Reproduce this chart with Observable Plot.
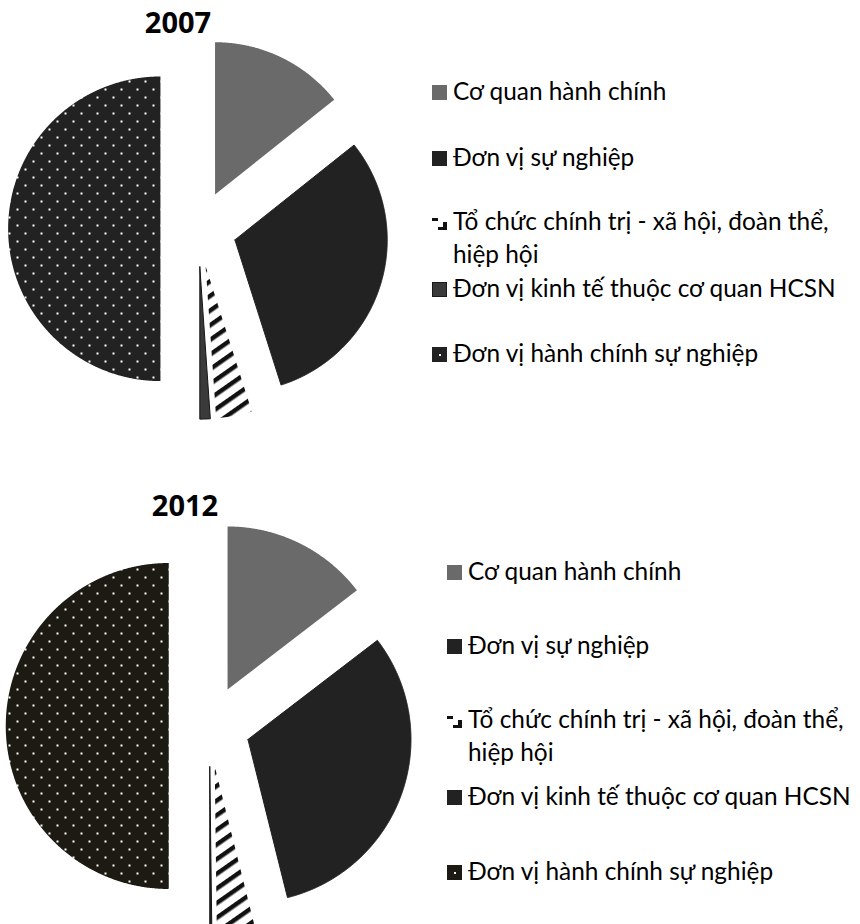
<!DOCTYPE html>
<html lang="vi">
<head>
<meta charset="utf-8">
<script src="https://cdn.jsdelivr.net/npm/d3@7"></script>
<script src="https://cdn.jsdelivr.net/npm/@observablehq/plot@0.6"></script>
<style>
html,body{margin:0;padding:0;background:#fff;}
#root{position:relative;width:860px;height:924px;overflow:hidden;background:#fff;font-family:"Open Sans",sans-serif;color:#000;}
.pie{position:absolute;left:0;}
.title{position:absolute;width:200px;text-align:center;font-weight:700;white-space:nowrap;}
.lab{position:absolute;white-space:normal;font-family:Lato,"Open Sans",sans-serif;}
.sw{position:absolute;}
</style>
</head>
<body>
<svg width="0" height="0" style="position:absolute;left:0;top:0">
  <defs>
    <pattern id="dots07" patternUnits="userSpaceOnUse" width="16" height="16">
      <rect width="16" height="16" fill="#222222"/>
      <rect x="0" y="0" width="2" height="2" fill="#fff"/>
      <rect x="8" y="8" width="2" height="2" fill="#fff"/>
    </pattern>
    <pattern id="dots12" patternUnits="userSpaceOnUse" width="16" height="16">
      <rect width="16" height="16" fill="#1c1a12"/>
      <rect x="0" y="0" width="2" height="2" fill="#fff"/>
      <rect x="8" y="8" width="2" height="2" fill="#fff"/>
    </pattern>
    <pattern id="hatch" patternUnits="userSpaceOnUse" width="12" height="12" patternTransform="rotate(-35)">
      <rect width="12" height="12" fill="#fff"/>
      <rect x="0" y="0" width="12" height="4.5" fill="#111"/>
    </pattern>
  </defs>
</svg>
<div id="root"></div>
<script>
// ---------- data ----------
const categories = [
  "Cơ quan hành chính",
  "Đơn vị sự nghiệp",
  "Tổ chức chính trị - xã hội, đoàn thể, hiệp hội",
  "Đơn vị kinh tế thuộc cơ quan HCSN",
  "Đơn vị hành chính sự nghiệp"
];
const years = ["2007", "2012"];
const shares2007 = [14.3, 30.8, 3.8, 1.1, 50.0];
const shares2012 = [14.6, 31.5, 3.7, 0.2, 50.0];
const sharesByYear = {"2007": shares2007, "2012": shares2012};

// ---------- styles ----------
const fillsByYear = {
  "2007": ["#6a6a6a", "#222222", "url(#hatch)", "#3a3a3a", "url(#dots07)"],
  "2012": ["#6a6a6a", "#222222", "url(#hatch)", "#222222", "url(#dots12)"]
};
const strokesByYear = {
  "2007": ["none", "#222222", "none", "#151515", "none"],
  "2012": ["none", "#222222", "none", "#151515", "none"]
};
const EXPLODE = 0.25;

// ---------- layout ----------
const layout = {
  "2007": {top: 0,   W: 430, H: 440, cx: 198, cy: 228.3, r: 152.3, titleX: 178, titleBase: 33,
           swX: 432, txX: 453, base: [100, 166, 230, 297, 362]},
  "2012": {top: 480, W: 430, H: 444, cx: 209, cy: 245.5, r: 163,   titleX: 185, titleBase: 516,
           swX: 447, txX: 468, base: [580, 654, 728, 805, 880]}
};

const root = document.getElementById("root");
const LEG_FONT = 'Lato';

// fit legend font so the widest legend line matches the reference width
const ctx = document.createElement("canvas").getContext("2d");
ctx.font = '100px ' + LEG_FONT;
const longW = Math.max(
  ctx.measureText("Tổ chức chính trị - xã hội, đoàn thể,").width,
  ctx.measureText(categories[3]).width
);
const LEG_FS = 100 * 384 / longW;
const LEG_LH = 33;

// measure baseline offset inside a line box
function baselineOffset(family, weight, fs, lh) {
  const d = document.createElement("div");
  d.style.cssText = `position:absolute;left:0;top:0;visibility:hidden;font-family:${family};font-weight:${weight};font-size:${fs}px;line-height:${lh}px;white-space:nowrap;`;
  d.textContent = "Hg";
  const m = document.createElement("span");
  m.style.cssText = "display:inline-block;width:0;height:0;vertical-align:baseline;";
  d.appendChild(m);
  root.appendChild(d);
  const off = m.getBoundingClientRect().top - d.getBoundingClientRect().top;
  root.removeChild(d);
  return off;
}

function sliceOutline(values) {
  const arcs = d3.pie().sort(null).value(v => v)(values);
  const pts = [];
  arcs.forEach((a, i) => {
    const mid = (a.startAngle + a.endAngle) / 2;
    const ox = EXPLODE * Math.sin(mid), oy = EXPLODE * Math.cos(mid);
    const steps = Math.max(4, Math.ceil((a.endAngle - a.startAngle) / 0.005));
    pts.push({slice: i, x: ox, y: oy});
    for (let j = 0; j <= steps; j++) {
      const t = a.startAngle + (a.endAngle - a.startAngle) * j / steps;
      pts.push({slice: i, x: ox + Math.sin(t), y: oy + Math.cos(t)});
    }
    pts.push({slice: i, x: ox, y: oy});
  });
  return pts;
}

function swatch(i, year) {
  const ns = "http://www.w3.org/2000/svg";
  const s = document.createElementNS(ns, "svg");
  s.setAttribute("width", 15); s.setAttribute("height", 15);
  s.setAttribute("class", "sw");
  let inner = "";
  const f = fillsByYear[year];
  if (i === 0 || i === 1) inner = `<rect width="15" height="15" fill="${f[i]}"/>`;
  else if (i === 2) inner = `<rect width="15" height="15" fill="#fff"/><path d="M0,3h6v3h-6z M15,7L15,15L6,15L6,12L11,12L11,7Z" fill="#111"/>`;
  else if (i === 3) inner = year === "2007"
      ? `<rect x="0.5" y="0.5" width="14" height="14" fill="#3a3a3a" stroke="#1a1a1a"/>`
      : `<rect width="15" height="15" fill="#222222"/>`;
  else inner = `<rect width="15" height="15" fill="${year === "2007" ? "#222222" : "#1c1a12"}"/><rect x="7" y="7" width="2" height="2" fill="#fff"/>`;
  s.innerHTML = inner;
  return s;
}

const TFS = 29;
const titleOff = baselineOffset('"Open Sans"', 700, TFS, TFS);
const legOff = baselineOffset(LEG_FONT, 400, LEG_FS, LEG_LH);

years.forEach(year => {
  const L = layout[year];
  const fills = fillsByYear[year], strokes = strokesByYear[year];
  const pts = sliceOutline(sharesByYear[year]);
  const chart = Plot.plot({
    width: L.W, height: L.H, margin: 0,
    x: {domain: [-L.cx / L.r, (L.W - L.cx) / L.r], range: [0, L.W], axis: null},
    y: {domain: [(L.cy - L.H) / L.r, L.cy / L.r], range: [L.H, 0], axis: null},
    color: {type: "identity"},
    marks: [
      Plot.line(pts, {x: "x", y: "y", z: "slice",
        fill: d => fills[d.slice], stroke: d => strokes[d.slice],
        strokeWidth: 1, curve: "linear"})
    ]
  });
  chart.classList.add("pie");
  chart.style.top = L.top + "px";
  chart.style.background = "transparent";
  root.appendChild(chart);

  const t = document.createElement("div");
  t.className = "title";
  t.style.fontSize = TFS + "px";
  t.style.lineHeight = TFS + "px";
  t.style.left = (L.titleX - 100) + "px";
  t.style.top = (L.titleBase - titleOff) + "px";
  t.textContent = year;
  root.appendChild(t);

  categories.forEach((c, i) => {
    const b = L.base[i];
    const sw = swatch(i, year);
    sw.style.left = L.swX + "px";
    sw.style.top = (b - 15) + "px";
    root.appendChild(sw);
    const lab = document.createElement("div");
    lab.className = "lab";
    lab.style.fontSize = LEG_FS + "px";
    lab.style.lineHeight = LEG_LH + "px";
    lab.style.width = "392px";
    lab.style.left = L.txX + "px";
    lab.style.top = (b - legOff) + "px";
    lab.textContent = c;
    root.appendChild(lab);
  });
});
</script>
</body>
</html>
